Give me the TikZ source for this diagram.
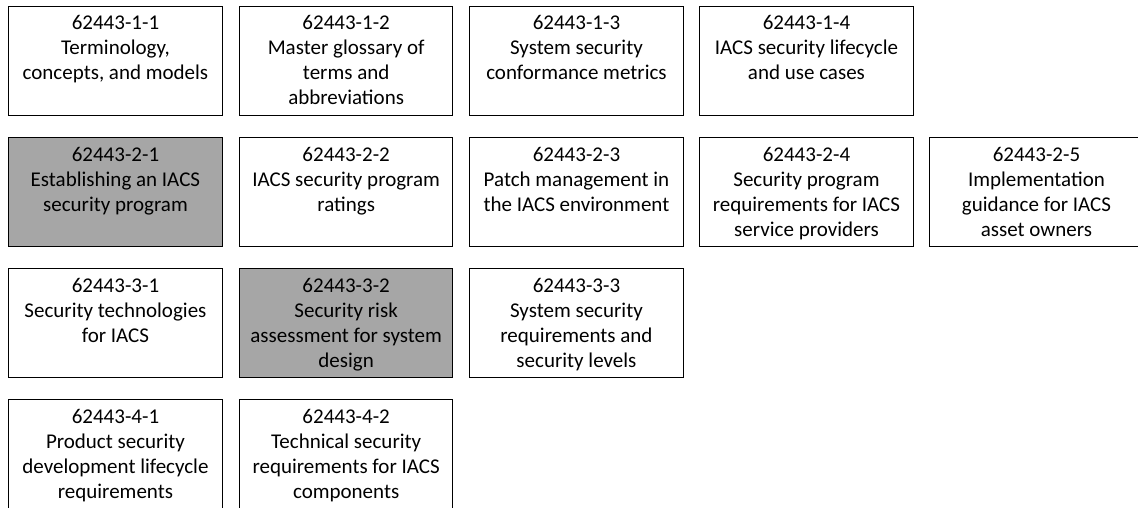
\documentclass[tikz,border=0pt]{standalone}
\usepackage{fontspec}
\setmainfont{Carlito}
\definecolor{boxgray}{HTML}{A6A6A6}
\tikzset{
  partbox/.style={draw=black, line width=1pt, minimum width=213.3pt,
    minimum height=109pt, inner sep=0pt, anchor=north west},
  keybox/.style={partbox, fill=boxgray},
  partlabel/.style={anchor=north, inner sep=0pt, align=center,
    font=\fontsize{21pt}{25pt}\selectfont},
}
% #1 name, #2 left, #3 top, #4 box style, #5 label text
\newcommand\standardpart[5]{%
  \node[#4] (#1) at (#2,#3) {};
  \node[partlabel] (#1t) at ([yshift=-9.5pt]#1.north) {#5};
}
\begin{document}
\begin{tikzpicture}[x=1pt,y=-1pt]
  \useasboundingbox (0,0) rectangle (1138,507);
  \clip (0,0) rectangle (1138,507);
  % General
  \standardpart{p11}{8.3}{6}{partbox}{62443-1-1\\Terminology,\\concepts, and models}
  \standardpart{p12}{239}{6}{partbox}{62443-1-2\\Master glossary of\\terms and\\abbreviations}
  \standardpart{p13}{469.3}{6}{partbox}{62443-1-3\\System security\\conformance metrics}
  \standardpart{p14}{699.3}{6}{partbox}{62443-1-4\\IACS security lifecycle\\and use cases}
  % Policies and procedures
  \standardpart{p21}{8.3}{137.2}{keybox}{62443-2-1\\Establishing an IACS\\security program}
  \standardpart{p22}{239}{137.2}{partbox}{62443-2-2\\IACS security program\\ratings}
  \standardpart{p23}{469.3}{137.2}{partbox}{62443-2-3\\Patch management in\\the IACS environment}
  \standardpart{p24}{699.3}{137.2}{partbox}{62443-2-4\\Security program\\requirements for IACS\\service providers}
  \standardpart{p25}{929.3}{137.2}{partbox}{62443-2-5\\Implementation\\guidance for IACS\\asset owners}
  % System
  \standardpart{p31}{8.3}{268.3}{partbox}{62443-3-1\\Security technologies\\for IACS}
  \standardpart{p32}{239}{268.3}{keybox}{62443-3-2\\Security risk\\assessment for system\\design}
  \standardpart{p33}{469.3}{268.3}{partbox}{62443-3-3\\System security\\requirements and\\security levels}
  % Component
  \standardpart{p41}{8.3}{399.3}{partbox}{62443-4-1\\Product security\\development lifecycle\\requirements}
  \standardpart{p42}{239}{399.3}{partbox}{62443-4-2\\Technical security\\requirements for IACS\\components}
\end{tikzpicture}
\end{document}
